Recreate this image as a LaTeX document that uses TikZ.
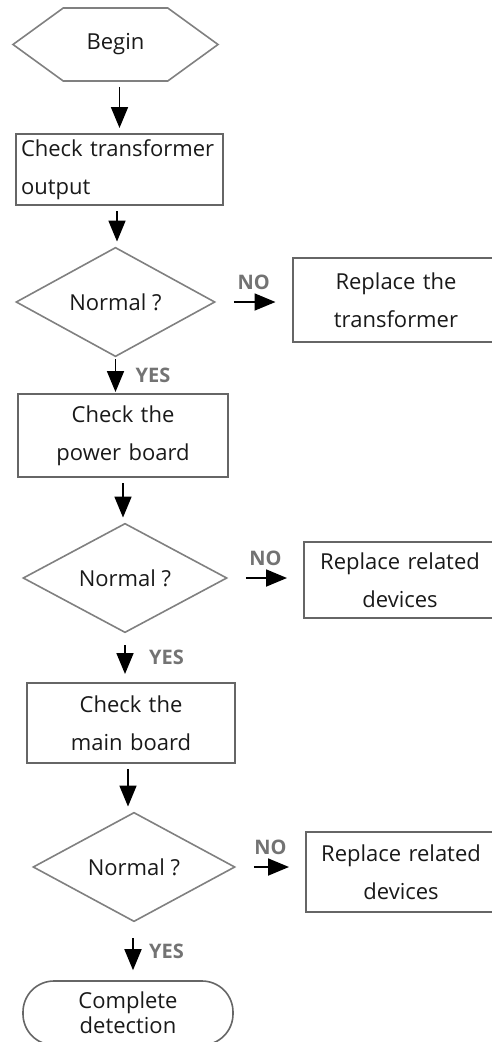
\documentclass[tikz,border=0pt]{standalone}
\usepackage{fontspec}
\setmainfont{Open Sans}
\usetikzlibrary{positioning}
\usetikzlibrary{shapes.geometric}
\usetikzlibrary{shapes.symbols}
\usetikzlibrary{arrows.meta}

\begin{document}
\begin{tikzpicture}[x=1pt, y=-1pt,
    every node/.style={font=\fontsize{22}{38}\selectfont, text=black!90},
    proc/.style={rectangle, draw=black!60, line width=2pt, inner xsep=5pt, inner ysep=0pt, align=center},
    dec/.style={diamond, draw=black!50, line width=1.6pt, inner sep=0pt},
    hexa/.style={signal, signal to=west and east, signal pointer angle=72, draw=black!50, line width=1.6pt, inner sep=0pt},
    term/.style={rectangle, rounded corners=31pt, draw=black!60, line width=1.6pt, inner sep=0pt, align=center},
    lbl/.style={font=\bfseries\fontsize{20}{20}\selectfont, text=black!55},
    arr/.style={-{Triangle[length=21pt,width=17pt]}, line width=1.8pt, shorten <=5pt, shorten >=5pt},
    side/.style={shorten <=18pt, shorten >=16pt}]
    \useasboundingbox (0,0) rectangle (492,1042);
    \clip (0,0) rectangle (492,1042);

    \node[hexa, minimum width=205pt, minimum height=73pt] (start) at (115.5,44.5) {Begin};
    \node[proc, text width=197pt, align=left, minimum height=71pt] (check1) at (119.5,169.5) {Check transformer\\output};
    \node[dec, minimum width=199pt, minimum height=88pt] (dec1) at (115.5,302) {Normal ?};
    \node[proc, text width=197pt, minimum height=84pt] (repl1) at (396,300) {Replace the\\transformer};
    \node[proc, text width=200pt, minimum height=83pt] (check2) at (123,435.5) {Check the\\power board};
    \node[dec, minimum width=204pt, minimum height=82pt] (dec2) at (125,578) {Normal ?};
    \node[proc, text width=182pt, minimum height=76pt] (repl2) at (400,580) {Replace related\\devices};
    \node[proc, text width=198pt, minimum height=80pt] (check3) at (131,723) {Check the\\main board};
    \node[dec, minimum width=202pt, minimum height=86pt] (dec3) at (134,867) {Normal ?};
    \node[proc, text width=180pt, minimum height=80pt] (repl3) at (401,872) {Replace related\\devices};
    \node[term, font=\fontsize{22}{25}\selectfont, minimum width=210pt, minimum height=64pt] (finish) at (128,1013) {Complete\\detection};

    \draw[arr] (start.south -| check1) -- (check1.north);
    \draw[arr] (check1.south -| 117,0) -- (dec1.north -| 117,0);
    \draw[arr, side] (dec1.east) -- node[lbl, above=8pt] {NO} (repl1.west |- dec1.east);
    \draw[arr, shorten <=2pt, shorten >=1pt] (dec1.south) -- node[lbl, right=16pt] {YES} (dec1.south |- check2.north);
    \draw[arr] (check2.south) -- (check2.south |- dec2.north);
    \draw[arr, side] (dec2.east) -- node[lbl, above=8pt] {NO} (repl2.west |- dec2.east);
    \draw[arr, shorten <=12pt, shorten >=8pt] (dec2.south) -- node[lbl, right=20pt] {YES} (dec2.south |- check3.north);
    \draw[arr] (check3.south -| 128,0) -- (dec3.north -| 128,0);
    \draw[arr, side] (dec3.east) -- node[lbl, above=8pt] {NO} (repl3.west |- dec3.east);
    \draw[arr, shorten <=16pt, shorten >=10pt] (dec3.south -| 133,0) -- node[lbl, right=12pt] {YES} (finish.north -| 133,0);
\end{tikzpicture}
\end{document}
